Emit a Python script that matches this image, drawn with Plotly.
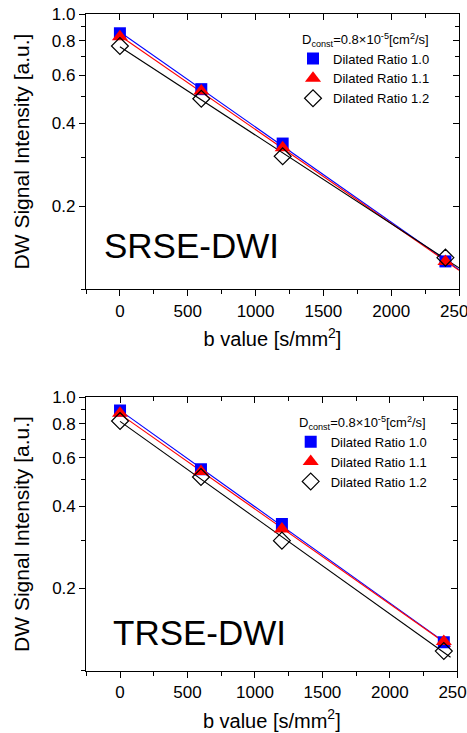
import numpy as np
import plotly.graph_objects as go

# ---- data ----
B_VALUES = [0, 600, 1200, 2400]
SRSE_R10 = [0.851, 0.533, 0.338, 0.126]
SRSE_R11 = [0.827, 0.525, 0.326, 0.126]
SRSE_R12 = [0.765, 0.492, 0.304, 0.130]
TRSE_R10 = [0.894, 0.546, 0.344, 0.127]
TRSE_R11 = [0.874, 0.535, 0.330, 0.128]
TRSE_R12 = [0.819, 0.511, 0.299, 0.118]
FIT_B_TOP = [0, 2500]
FIT_B_BOT = [0, 2450]
SERIES_NAMES = ["Dilated Ratio 1.0", "Dilated Ratio 1.1", "Dilated Ratio 1.2"]
X_TICKS = [0, 500, 1000, 1500, 2000, 2500]
X_MINOR = [-250, 250, 750, 1250, 1750, 2250]
Y_TICKS = [0.2, 0.4, 0.6, 0.8, 1.0]
Y_TICK_TEXT = ["0.2", "0.4", "0.6", "0.8", "1.0"]
Y_MINOR = [0.1, 0.3, 0.5, 0.7, 0.9]

W, H = 467, 733
FONT = "Arial, Liberation Sans, sans-serif"
COLORS = ["#0000FF", "#FF0000", "#000000"]
SYMBOLS = ["square", "triangle-up", "diamond-open"]
SIZES = [12, 14, 13]

fig = go.Figure()

def fit_line(b, y, bfit):
    k, c = np.polyfit(np.array(b, float), np.log(np.array(y, float)), 1)
    bf = np.array(bfit, float)
    return bf, np.exp(c + k * bf)

panels = [
    ("x", "y", [SRSE_R10, SRSE_R11, SRSE_R12], FIT_B_TOP, "legend"),
    ("x2", "y2", [TRSE_R10, TRSE_R11, TRSE_R12], FIT_B_BOT, "legend2"),
]
for xa, ya, series, bfit, leg in panels:
    for i, s in enumerate(series):
        fx, fy = fit_line(B_VALUES, s, bfit)
        fig.add_trace(go.Scatter(x=fx, y=fy, mode="lines", xaxis=xa, yaxis=ya,
                                 line=dict(color=COLORS[i], width=1.1),
                                 showlegend=False, hoverinfo="skip"))
    for i, s in enumerate(series):
        mk = dict(symbol=SYMBOLS[i], size=SIZES[i], color=COLORS[i])
        if SYMBOLS[i] == "diamond-open":
            mk["line"] = dict(width=1.2, color=COLORS[i])
        else:
            mk["line"] = dict(width=0)
        fig.add_trace(go.Scatter(x=B_VALUES, y=s, mode="markers", xaxis=xa, yaxis=ya,
                                 marker=mk, name=SERIES_NAMES[i], legend=leg))

# dummy traces for inside-tick mirror axes
fig.add_trace(go.Scatter(x=[None], y=[None], xaxis="x3", yaxis="y3", showlegend=False, hoverinfo="skip"))
fig.add_trace(go.Scatter(x=[None], y=[None], xaxis="x4", yaxis="y4", showlegend=False, hoverinfo="skip"))

XR = [-250, 2500]
YR = [-1, 0]

def xaxis_main(domain, anchor):
    return dict(domain=domain, anchor=anchor, range=XR, tickmode="array", tickvals=X_TICKS,
                ticks="outside", ticklen=6, tickwidth=1, tickcolor="black", automargin=False,
                ticklabeloverflow="allow",
                showline=True, linecolor="black", linewidth=1.2, mirror=True,
                showgrid=False, zeroline=False,
                tickfont=dict(family=FONT, size=17, color="black"),
                minor=dict(tickmode="array", tickvals=X_MINOR, ticks="outside", ticklen=4,
                           tickcolor="black", tickwidth=1, showgrid=False),
                title=dict(text="b value [s/mm<sup>2</sup>]", font=dict(family=FONT, size=20, color="black"),
                           standoff=12))

def yaxis_main(domain, anchor):
    return dict(domain=domain, anchor=anchor, type="log", range=YR, tickmode="array",
                tickvals=Y_TICKS, ticktext=Y_TICK_TEXT, automargin=False,
                ticklabeloverflow="allow",
                ticks="outside", ticklen=6, tickwidth=1, tickcolor="black",
                showline=True, linecolor="black", linewidth=1.2, mirror=True,
                showgrid=False, zeroline=False,
                tickfont=dict(family=FONT, size=17, color="black"),
                minor=dict(tickmode="array", tickvals=Y_MINOR, ticks="outside", ticklen=4,
                           tickcolor="black", tickwidth=1, showgrid=False),
                title=dict(text="DW Signal Intensity [a.u.]", font=dict(family=FONT, size=21, color="black"),
                           standoff=16))

def xaxis_mirror(over, anchor):
    return dict(overlaying=over, anchor=anchor, side="top", range=XR, tickmode="array",
                tickvals=X_TICKS, ticks="inside", ticklen=6, tickwidth=1, tickcolor="black",
                showticklabels=False, showline=False, showgrid=False, zeroline=False, automargin=False,
                minor=dict(tickmode="array", tickvals=X_MINOR, ticks="inside", ticklen=4,
                           tickcolor="black", tickwidth=1, showgrid=False))

def yaxis_mirror(over, anchor):
    return dict(overlaying=over, anchor=anchor, side="right", type="log", range=YR,
                tickmode="array", tickvals=Y_TICKS, ticks="inside", ticklen=6, tickwidth=1,
                tickcolor="black", showticklabels=False, showline=False, showgrid=False,
                zeroline=False, automargin=False,
                minor=dict(tickmode="array", tickvals=Y_MINOR, ticks="inside", ticklen=4,
                           tickcolor="black", tickwidth=1, showgrid=False))

top_x = [86 / W, 459 / W]
top_y = [1 - 289 / H, 1 - 14 / H]
bot_x = [86.3 / W, 457.3 / W]
bot_y = [1 - 670.7 / H, 1 - 397.3 / H]

legend_common = dict(xanchor="left", yanchor="top", bgcolor="rgba(0,0,0,0)",
                     font=dict(family=FONT, size=13, color="black"), tracegroupgap=0,
                     itemsizing="trace")

fig.update_layout(
    width=W, height=H, margin=dict(l=0, r=0, t=0, b=0),
    paper_bgcolor="white", plot_bgcolor="white",
    xaxis=xaxis_main(top_x, "y"), yaxis=yaxis_main(top_y, "x"),
    xaxis2=xaxis_main(bot_x, "y2"), yaxis2=yaxis_main(bot_y, "x2"),
    xaxis3=xaxis_mirror("x", "y"), yaxis3=yaxis_mirror("y", "x"),
    xaxis4=xaxis_mirror("x2", "y2"), yaxis4=yaxis_mirror("y2", "x2"),
    legend=dict(x=293 / W, y=1 - 43.5 / H, **legend_common),
    legend2=dict(x=290.7 / W, y=1 - 426.7 / H, **legend_common),
    annotations=[
        dict(text="D<sub>const</sub>=0.8\u00d710<sup>-5</sup>[cm<sup>2</sup>/s]", x=300 / W, y=1 - 40 / H,
             xref="paper", yref="paper", xanchor="left", yanchor="middle", showarrow=False,
             font=dict(family=FONT, size=13, color="black")),
        dict(text="D<sub>const</sub>=0.8\u00d710<sup>-5</sup>[cm<sup>2</sup>/s]", x=296.7 / W, y=1 - 423 / H,
             xref="paper", yref="paper", xanchor="left", yanchor="middle", showarrow=False,
             font=dict(family=FONT, size=13, color="black")),
        dict(text="SRSE-DWI", x=191.5 / W, y=1 - 245 / H, xref="paper", yref="paper",
             xanchor="center", yanchor="middle", showarrow=False,
             font=dict(family=FONT, size=35, color="black")),
        dict(text="TRSE-DWI", x=199 / W, y=1 - 632 / H, xref="paper", yref="paper",
             xanchor="center", yanchor="middle", showarrow=False,
             font=dict(family=FONT, size=35, color="black")),
    ],
)

fig.write_html("out.html", config={"displayModeBar": False},
               post_script="document.body.style.margin='0px';document.body.style.overflow='hidden';")
